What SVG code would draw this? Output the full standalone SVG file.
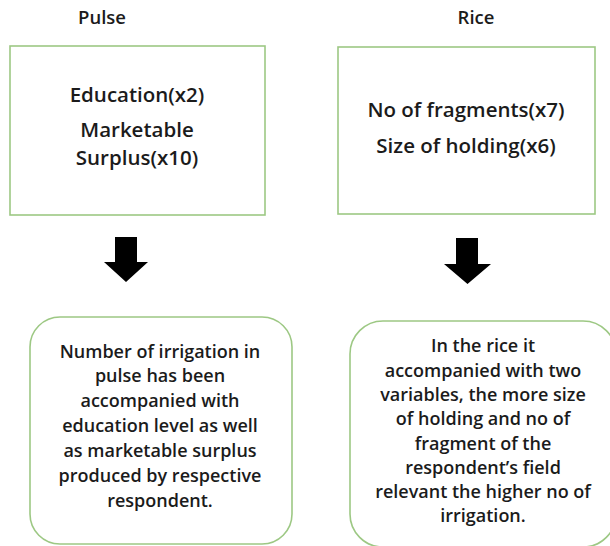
<svg xmlns="http://www.w3.org/2000/svg" width="610" height="546" viewBox="0 0 610 546">
<style>
.t{font-family:"Open Sans","Noto Sans",sans-serif;fill:#1b1b1b;text-anchor:middle;font-weight:600}
.h{font-size:18.5px}
.m{font-size:20.5px}
.s{font-size:18px}
.box{fill:#fff;stroke:#9dc884;stroke-width:1.6}
.arr{fill:#000}
</style>
<rect width="610" height="546" fill="#fff"/>
<g id="pulse-title"><text class="t h" x="102" y="24">Pulse</text></g>
<g id="rice-title"><text class="t h" x="476" y="24">Rice</text></g>
<g id="pulse-box">
<rect class="box" x="10" y="46" width="255" height="169"/>
<text class="t m" x="137" y="102">Education(x2)</text>
<text class="t m" x="137" y="137">Marketable</text>
<text class="t m" x="137" y="165">Surplus(x10)</text>
</g>
<g id="rice-box">
<rect class="box" x="338" y="47" width="257" height="167"/>
<text class="t m" x="466" y="117">No of fragments(x7)</text>
<text class="t m" x="466" y="153">Size of holding(x6)</text>
</g>
<g id="connectors">
<polygon class="arr" points="115,237 137,237 137,262 148,262 126,282 104,262 115,262"/>
<polygon class="arr" points="456,238 478,238 478,264 491,264 467.5,284 444,264 456,264"/>
</g>
<g id="pulse-result">
<rect class="box" x="30" y="317" width="262" height="227" rx="30" ry="30"/>
<text class="t s" x="160" y="358">Number of irrigation in</text>
<text class="t s" x="160" y="382">pulse has been</text>
<text class="t s" x="160" y="407">accompanied with</text>
<text class="t s" x="160" y="432">education level as well</text>
<text class="t s" x="160" y="457">as marketable surplus</text>
<text class="t s" x="160" y="482">produced by respective</text>
<text class="t s" x="160" y="507">respondent.</text>
</g>
<g id="rice-result">
<rect class="box" x="350" y="321" width="266" height="226" rx="33" ry="33"/>
<text class="t s" x="483" y="352">In the rice it</text>
<text class="t s" x="483" y="377">accompanied with two</text>
<text class="t s" x="483" y="401">variables, the more size</text>
<text class="t s" x="483" y="425">of holding and no of</text>
<text class="t s" x="483" y="450">fragment of the</text>
<text class="t s" x="483" y="474">respondent’s field</text>
<text class="t s" x="483" y="498">relevant the higher no of</text>
<text class="t s" x="483" y="522">irrigation.</text>
</g>
</svg>
